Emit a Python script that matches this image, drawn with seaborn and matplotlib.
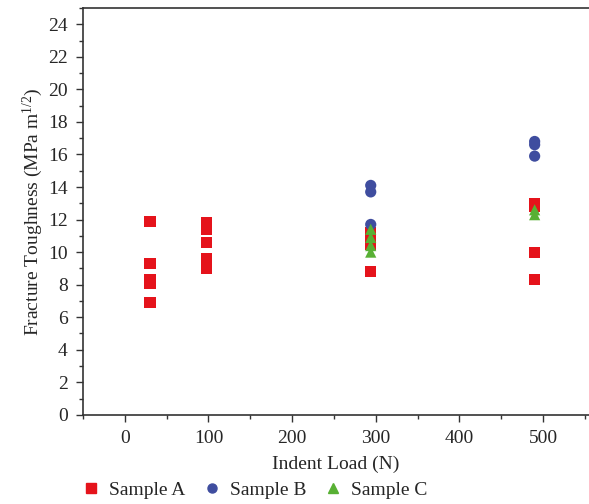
import numpy as np
import pandas as pd
import seaborn as sns
import matplotlib.pyplot as plt
from matplotlib.ticker import MultipleLocator

# indent load (N) and fracture toughness (MPa m^1/2) per sample
load_a = [30, 30, 30, 30, 30, 98, 98, 98, 98, 98, 98, 294, 294, 294, 294, 490, 490, 490, 490]
tough_a = [11.9, 9.3, 8.3, 8.1, 6.9, 11.8, 11.4, 10.6, 9.6, 9.3, 9.0, 11.2, 10.9, 10.5, 8.8, 13.0, 12.8, 10.0, 8.3]
load_b = [294, 294, 294, 490, 490, 490]
tough_b = [14.1, 13.7, 11.7, 16.8, 16.6, 15.9]
load_c = [294, 294, 294, 294, 490, 490]
tough_c = [11.4, 10.9, 10.4, 10.0, 12.6, 12.3]

samples = ['Sample A', 'Sample B', 'Sample C']
colors = ['#e5131b', '#3f4d9f', '#58b034']
markers = ['s', 'o', '^']

df = pd.DataFrame({
    'load': load_a + load_b + load_c,
    'toughness': tough_a + tough_b + tough_c,
    'sample': ['Sample A'] * len(load_a) + ['Sample B'] * len(load_b) + ['Sample C'] * len(load_c),
})

sns.set_style('ticks')
plt.rcParams['font.family'] = ['Liberation Serif', 'DejaVu Serif']
plt.rcParams['mathtext.fontset'] = 'custom'
plt.rcParams['mathtext.rm'] = 'Liberation Serif'
plt.rcParams['mathtext.it'] = 'Liberation Serif:italic'

fig = plt.figure(figsize=(5.89, 5.04), dpi=100)
ax = fig.add_axes([0.141, 0.177, 0.859, 0.807])

sns.scatterplot(data=df, x='load', y='toughness', hue='sample', style='sample',
                hue_order=samples, style_order=samples,
                palette=colors, markers=markers, s=65, linewidth=0,
                ax=ax, legend=False)

ax.set_xlim(-50, 555)
ax.set_ylim(0, 25)
ax.xaxis.set_major_locator(MultipleLocator(100))
ax.xaxis.set_minor_locator(MultipleLocator(50))
ax.yaxis.set_major_locator(MultipleLocator(2))
ax.yaxis.set_minor_locator(MultipleLocator(1))
ax.tick_params(which='major', length=5, width=1, labelsize=14, color='#333333', pad=6)
ax.tick_params(which='minor', length=3, width=1, color='#333333')
ax.spines['right'].set_visible(False)
for sp in ['left', 'bottom', 'top']:
    ax.spines[sp].set_linewidth(1.2)
    ax.spines[sp].set_color('#333333')

ax.set_xlabel('Indent Load (N)', fontsize=14, labelpad=6)
ax.set_ylabel('Fracture Toughness (MPa m$^{1/2}$)', fontsize=14, labelpad=2)

handles = [plt.Line2D([], [], marker=m, color=c, linestyle='', markersize=6.5)
           for m, c in zip(markers, colors)]
fig.legend(handles, samples, loc='lower left', bbox_to_anchor=(0.105, -0.025),
           ncol=3, frameon=False, fontsize=14, handletextpad=0.3,
           columnspacing=0.8, handlelength=1.2)

fig.savefig('out.png', dpi=100)
